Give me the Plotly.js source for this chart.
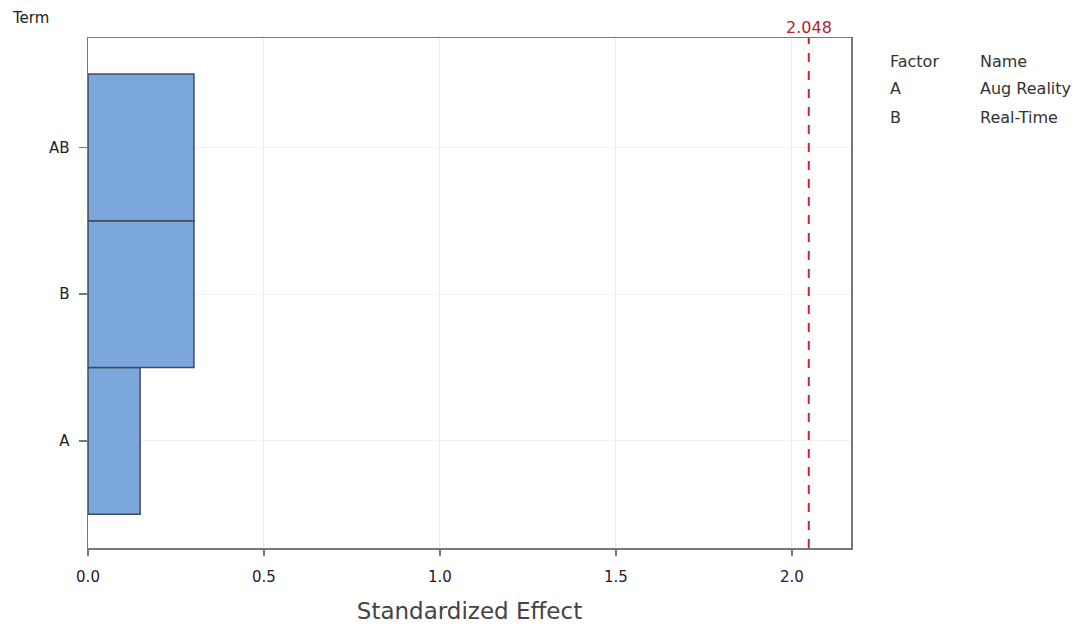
<!DOCTYPE html>
<html>
<head>
<meta charset="utf-8">
<script src="https://cdn.plot.ly/plotly-3.0.1.min.js"></script>
<style>body{margin:0;background:#fff;}#chart{width:1088px;height:631px;}</style>
</head>
<body>
<div id="chart"></div>
<script>
const terms = ["A", "B", "AB"];
const effects = [0.148, 0.301, 0.301];
const refValue = 2.048;
const refLabel = "2.048";
const factors = ["A", "B"];
const factorNames = ["Aug Reality", "Real-Time"];

const font = "DejaVu Sans, Noto Sans, sans-serif";

const trace = {
  type: "bar",
  orientation: "h",
  y: terms,
  x: effects,
  width: 1,
  marker: {color: "#7ba7dd", line: {color: "#3f4d5c", width: 1.5}},
  hoverinfo: "skip"
};

const annotations = [
  {text: "Term", xref: "paper", yref: "paper", x: -0.102, y: 1.039, xanchor: "left", yanchor: "middle", showarrow: false, font: {family: font, size: 15, color: "#222"}},
  {text: refLabel, xref: "x", yref: "paper", x: refValue, y: 1.0, xanchor: "center", yanchor: "bottom", showarrow: false, font: {family: font, size: 16, color: "#b0232a"}, yshift: -1}
];
const legendY = [0.953, 0.9, 0.845];
const legFont = {family: font, size: 16, color: "#333"};
annotations.push({text: "Factor", xref: "paper", yref: "paper", x: 1.0485, y: legendY[0], xanchor: "left", yanchor: "middle", showarrow: false, font: legFont});
annotations.push({text: "Name", xref: "paper", yref: "paper", x: 1.1665, y: legendY[0], xanchor: "left", yanchor: "middle", showarrow: false, font: legFont});
factors.forEach((f, i) => {
  const yy = legendY[i + 1];
  annotations.push({text: f, xref: "paper", yref: "paper", x: 1.0485, y: yy, xanchor: "left", yanchor: "middle", showarrow: false, font: legFont});
  annotations.push({text: factorNames[i], xref: "paper", yref: "paper", x: 1.1665, y: yy, xanchor: "left", yanchor: "middle", showarrow: false, font: legFont});
});

const layout = {
  width: 1088, height: 631,
  margin: {l: 88, r: 237, t: 38, b: 83},
  paper_bgcolor: "#fff", plot_bgcolor: "#fff",
  showlegend: false,
  bargap: 0,
  xaxis: {
    range: [0, 2.168],
    tickvals: [0, 0.5, 1.0, 1.5, 2.0],
    ticktext: ["0.0", "0.5", "1.0", "1.5", "2.0"],
    ticks: "outside", ticklen: 6, tickcolor: "#777", tickwidth: 1.5,
    showline: true, linecolor: "#777", linewidth: 1.5, mirror: true,
    showgrid: true, gridcolor: "#ececec", gridwidth: 1,
    zeroline: false,
    tickfont: {family: font, size: 15, color: "#222"},
    ticklabelstandoff: 8,
    title: {text: "Standardized Effect", font: {family: font, size: 23, color: "#444"}, standoff: 18}
  },
  yaxis: {
    type: "category",
    categoryorder: "array", categoryarray: terms,
    range: [-0.73, 2.745],
    ticks: "outside", ticklen: 8, tickcolor: "#777", tickwidth: 1.5,
    showline: true, linecolor: "#777", linewidth: 1.5, mirror: true,
    showgrid: true, gridcolor: "#f2f2f2", gridwidth: 1,
    zeroline: false,
    tickfont: {family: font, size: 15, color: "#222"},
    ticklabelstandoff: 6
  },
  shapes: [
    {type: "line", xref: "x", yref: "paper", x0: refValue, x1: refValue, y0: 0, y1: 1, line: {color: "#d8202a", width: 2, dash: "dash"}}
  ],
  annotations: annotations
};

Plotly.newPlot("chart", [trace], layout, {displayModeBar: false, staticPlot: true});
</script>
</body>
</html>
